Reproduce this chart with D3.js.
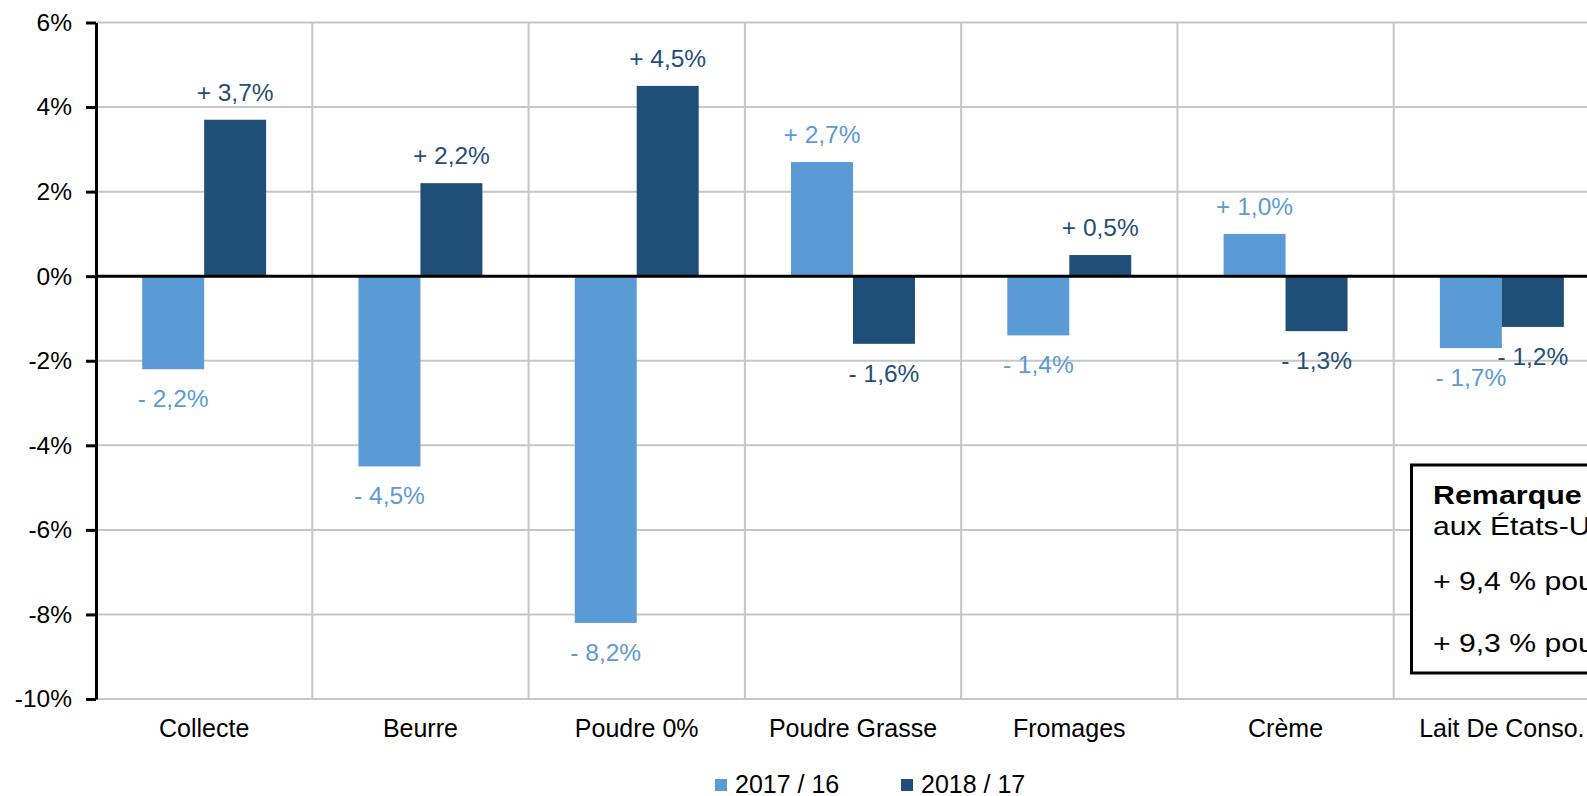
<!DOCTYPE html>
<html>
<head>
<meta charset="utf-8">
<script src="https://cdn.jsdelivr.net/npm/d3@7"></script>
<style>
  html, body { margin: 0; padding: 0; overflow: hidden; background: #fff; }
  svg { display: block; font-family: Arial, "Liberation Sans", sans-serif; }
</style>
</head>
<body>
<svg width="1587" height="796"></svg>
<script>
// data
const categories = ["Collecte", "Beurre", "Poudre 0%", "Poudre Grasse", "Fromages", "Crème", "Lait De Conso."]
const series = ["2017 / 16", "2018 / 17"]
const values1716 = [-2.2, -4.5, -8.2, 2.7, -1.4, 1.0, -1.7]
const values1817 = [3.7, 2.2, 4.5, -1.6, 0.5, -1.3, -1.2]
const yTicks = [-10, -8, -6, -4, -2, 0, 2, 4, 6]
const remarkTitle = "Remarque : hausse"
const remarkLines = ["aux États-Unis", "+ 9,4 % pour le beurre", "+ 9,3 % pour les fromages"]

const colors = ["#5b9bd5", "#1f4e79"]

let svg = d3.select('svg')

let y = d3.scaleLinear().domain([-10, 6]).range([699, 22.5])

let x = d3.scaleBand()
  .domain(categories)
  .range([96, 1610])
  .paddingInner(0.427)
  .paddingOuter(0.2135)

let xs = d3.scaleBand().domain(series).range([0, x.bandwidth()]).padding(0)

// horizontal grid
svg.append("g")
  .selectAll("line")
  .data(yTicks)
  .join("line")
    .attr("x1", 96)
    .attr("x2", 1610)
    .attr("y1", d => y(d))
    .attr("y2", d => y(d))
    .attr("stroke", "#c6c6c6")
    .attr("stroke-width", 2)

// vertical grid at band edges
let edges = d3.range(1, categories.length + 1).map(i => x.range()[0] + i * x.step())
svg.append("g")
  .selectAll("line")
  .data(edges)
  .join("line")
    .attr("x1", d => d)
    .attr("x2", d => d)
    .attr("y1", y(6))
    .attr("y2", y(-10))
    .attr("stroke", "#c6c6c6")
    .attr("stroke-width", 2)

// bars
let rows = categories.map((c, i) => ({ cat: c, vals: [values1716[i], values1817[i]] }))

let groups = svg.append("g")
  .selectAll("g")
  .data(rows)
  .join("g")
    .attr("transform", d => `translate(${x(d.cat)},0)`)

groups.selectAll("rect")
  .data(d => d.vals.map((v, j) => ({ s: series[j], v: v, j: j })))
  .join("rect")
    .attr("x", d => xs(d.s))
    .attr("width", xs.bandwidth())
    .attr("y", d => y(Math.max(0, d.v)))
    .attr("height", d => Math.abs(y(d.v) - y(0)))
    .attr("fill", d => colors[d.j])

// data labels
function fmt(v) {
  let s = Math.abs(v).toFixed(1).replace(".", ",")
  return (v >= 0 ? "+ " : "- ") + s + "%"
}

groups.selectAll("text")
  .data(d => d.vals.map((v, j) => ({ s: series[j], v: v, j: j })))
  .join("text")
    .attr("x", d => xs(d.s) + xs.bandwidth() / 2)
    .attr("y", d => d.v >= 0 ? y(d.v) - 19 : y(d.v) + 38)
    .attr("text-anchor", "middle")
    .attr("font-size", 24.5)
    .attr("fill", d => colors[d.j])
    .text(d => fmt(d.v))

// zero line
svg.append("line")
  .attr("x1", 96)
  .attr("x2", 1610)
  .attr("y1", y(0))
  .attr("y2", y(0))
  .attr("stroke", "black")
  .attr("stroke-width", 3)

// y axis
let yAxis = svg.append("g")
  .attr("transform", "translate(96,0)")
  .call(d3.axisLeft(y).tickValues(yTicks).tickSize(10).tickSizeOuter(0).tickFormat(d => d + "%"))
yAxis.select(".domain").attr("stroke", "black").attr("stroke-width", 3)
yAxis.selectAll(".tick line").attr("stroke", "black").attr("stroke-width", 3)
yAxis.selectAll(".tick text")
  .attr("font-size", 24.5)
  .attr("font-family", "Arial, 'Liberation Sans', sans-serif")
  .attr("fill", "black")
  .attr("x", -24)

// category labels
svg.append("g")
  .selectAll("text")
  .data(categories)
  .join("text")
    .attr("x", d => x(d) + x.bandwidth() / 2)
    .attr("y", 737)
    .attr("text-anchor", "middle")
    .attr("font-size", 25)
    .text(d => d)

// legend
let legendX = [715, 901]
let legend = svg.append("g")
  .selectAll("g")
  .data(series)
  .join("g")
    .attr("transform", (d, i) => `translate(${legendX[i]},0)`)
legend.append("rect")
  .attr("x", 0)
  .attr("y", 779)
  .attr("width", 12)
  .attr("height", 12)
  .attr("fill", (d, i) => colors[i])
legend.append("text")
  .attr("x", 20)
  .attr("y", 793)
  .attr("font-size", 25)
  .text(d => d)

// remark box (runs past the right edge, as in the source picture)
let box = svg.append("g")
box.append("rect")
  .attr("x", 1411.5)
  .attr("y", 465)
  .attr("width", 400)
  .attr("height", 208)
  .attr("fill", "white")
  .attr("stroke", "black")
  .attr("stroke-width", 3)
box.append("text")
  .attr("transform", "translate(1433,504) scale(1.17,1)")
  .attr("font-size", 26)
  .attr("font-weight", "bold")
  .text(remarkTitle)
box.selectAll("text.line")
  .data(remarkLines)
  .join("text")
    .attr("class", "line")
    .attr("transform", (d, i) => `translate(1433,${[535, 590, 652][i]}) scale(1.16,1)`)
    .attr("font-size", 26)
    .text(d => d)
</script>
</body>
</html>
